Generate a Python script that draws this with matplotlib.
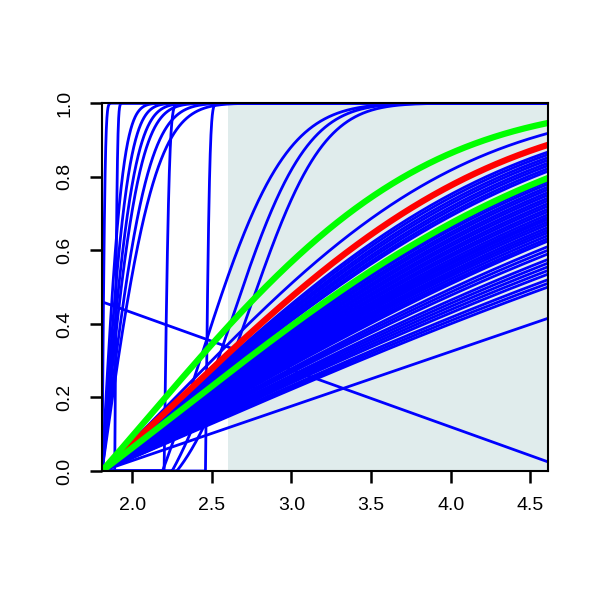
import math
import numpy as np
import matplotlib.pyplot as plt

##### data #####
X0, XMAX = 1.81, 4.61          # left edge = where the curves start
shade_from = 2.6               # grey-blue block on the right

# main bundle: value reached at the right edge (all start at X0, centre 2.3)
bundle_mu = 2.3
bundle_end = [0.50, 0.51, 0.52, 0.535, 0.545, 0.555, 0.565, 0.575, 0.59, 0.60,
              0.61, 0.625, 0.632, 0.64, 0.648, 0.655, 0.662, 0.67, 0.677, 0.684,
              0.69, 0.697, 0.705, 0.712, 0.72, 0.727, 0.735, 0.742, 0.75, 0.757,
              0.765, 0.772, 0.78, 0.787, 0.815, 0.822, 0.83, 0.837, 0.845, 0.852,
              0.86, 0.867, 0.918]

# other blue curves: start, centre, spread
other_start = [1.81, 1.89, 1.81, 1.81, 1.81, 1.81, 1.81, 1.81, 2.20, 2.46, 2.19, 2.25, 2.28]
other_mu    = [1.81, 1.89, 1.81, 1.81, 1.81, 1.81, 1.81, 1.81, 2.20, 2.46, 2.42, 2.62, 2.74]
other_sd    = [0.015, 0.012, 0.10, 0.128, 0.155, 0.18, 0.22, 0.26, 0.025, 0.02, 0.42, 0.37, 0.36]

# two straight lines (y at left edge, y at right edge)
line_left = [0.46, 0.0]
line_right = [0.025, 0.415]

# highlighted curves: centre, spread, colour
hl_mu = [2.3, 2.1, 2.3]
hl_sd = [1.57, 1.35, 1.98]
hl_col = ['#ff0000', '#00ff00', '#00ff00']
########################

erf = np.vectorize(math.erf)


def phi(z):
    return 0.5 * (1 + erf(z / math.sqrt(2)))


def curve(x, start, mu, sd):
    # normal cdf cut at 'start'
    p0 = phi((start - mu) / sd)
    y = (phi((x - mu) / sd) - p0) / (1 - p0)
    return np.where(x < start, 0, y)


def sd_for(end, mu):
    sds = np.linspace(0.5, 12, 600)
    ends = [curve(np.array([XMAX]), X0, mu, s)[0] for s in sds]
    return np.interp(end, ends[::-1], sds[::-1])


plt.rcParams['font.family'] = ['Liberation Sans', 'DejaVu Sans']
fig = plt.figure(figsize=(6, 6), dpi=100)
ax = fig.add_axes([0.17, 0.215, 0.743, 0.613])

x = np.linspace(X0, XMAX, 3000)

ax.axvspan(shade_from, XMAX, color='#e0ecec', lw=0, zorder=0)

for e in bundle_end:
    ax.plot(x, curve(x, X0, bundle_mu, sd_for(e, bundle_mu)), color='#0000ff', lw=2.0)
for a, m, s in zip(other_start, other_mu, other_sd):
    ax.plot(x, curve(x, a, m, s), color='#0000ff', lw=2.0)
for l, r in zip(line_left, line_right):
    ax.plot([X0, XMAX], [l, r], color='#0000ff', lw=2.0)

for m, s, c in zip(hl_mu, hl_sd, hl_col):
    ax.plot(x, curve(x, X0, m, s), color=c, lw=4.5)

ax.set_xlim(X0, XMAX)
ax.set_ylim(0, 1)
ax.set_xticks([2.0, 2.5, 3.0, 3.5, 4.0, 4.5])
ax.set_yticks([0.0, 0.2, 0.4, 0.6, 0.8, 1.0])
ax.set_xticklabels(['2.0', '2.5', '3.0', '3.5', '4.0', '4.5'])
ax.set_yticklabels(['0.0', '0.2', '0.4', '0.6', '0.8', '1.0'], rotation=90, va='center')
ax.tick_params(length=8.6, width=1.8, labelsize=14, direction='out')
ax.tick_params(axis='x', pad=10)
ax.tick_params(axis='y', pad=12)
for sp in ax.spines.values():
    sp.set_linewidth(1.5)
    sp.set_zorder(5)

plt.savefig('out.png', dpi=100)
